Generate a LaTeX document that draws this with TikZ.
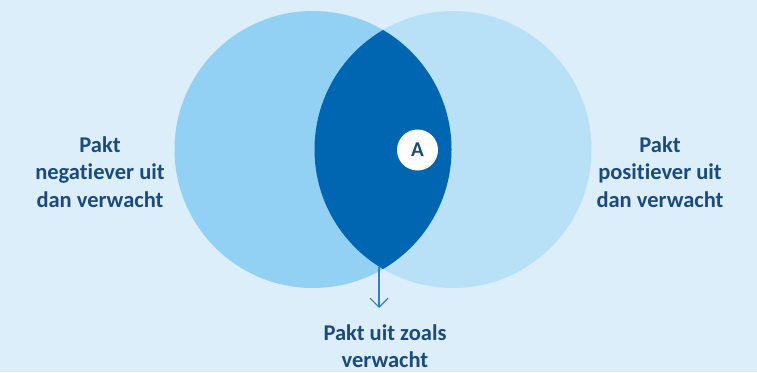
\documentclass[tikz,border=0pt]{standalone}
\usepackage{fontspec}
\setmainfont{Carlito}[Ligatures=NoCommon]
\usetikzlibrary{arrows.meta}
\definecolor{bgc}{HTML}{DCEEFA}
\definecolor{leftc}{HTML}{92D1F3}
\definecolor{rightc}{HTML}{B8E0F7}
\definecolor{lensc}{HTML}{0066B2}
\definecolor{txtc}{HTML}{1B4A7C}
\definecolor{arrc}{HTML}{2E7FC6}
\tikzset{
  lbl/.style={align=center, text=txtc, font=\fontsize{22.5}{27.5}\selectfont\bfseries, inner sep=0pt},
  venn/.style={circle, minimum size=277pt, inner sep=0pt, draw=none}
}
\begin{document}
\begin{tikzpicture}[x=1pt,y=-1pt]
\fill[bgc] (0,0) rectangle (757,372);
\useasboundingbox (0,0) rectangle (757,372);
\node[venn, fill=rightc] (R) at (453,149.5) {};
\node[venn, fill=leftc] (L) at (313,149.5) {};
\begin{scope}
  \clip (313,149.5) circle (138.5);
  \fill[lensc] (453,149.5) circle (138.5);
\end{scope}
\node[circle, fill=white, minimum size=41pt, inner sep=0pt, text=txtc, font=\fontsize{21}{24}\selectfont\bfseries] (A) at (417.5,150) {A};
\node[lbl] (neg) at (100,172) {Pakt\\negatiever uit\\dan verwacht};
\node[lbl] (pos) at (660,172) {Pakt\\positiever uit\\dan verwacht};
\node[lbl] (zo) at (385,346) {Pakt uit zoals\\verwacht};
\coordinate (lensbot) at (379,267);
\coordinate (tip) at (379,308);
\draw[arrc, line width=1.1pt, -{Straight Barb[length=9pt, width=18pt, line width=1.1pt]}] (lensbot) -- (tip);
\end{tikzpicture}
\end{document}
